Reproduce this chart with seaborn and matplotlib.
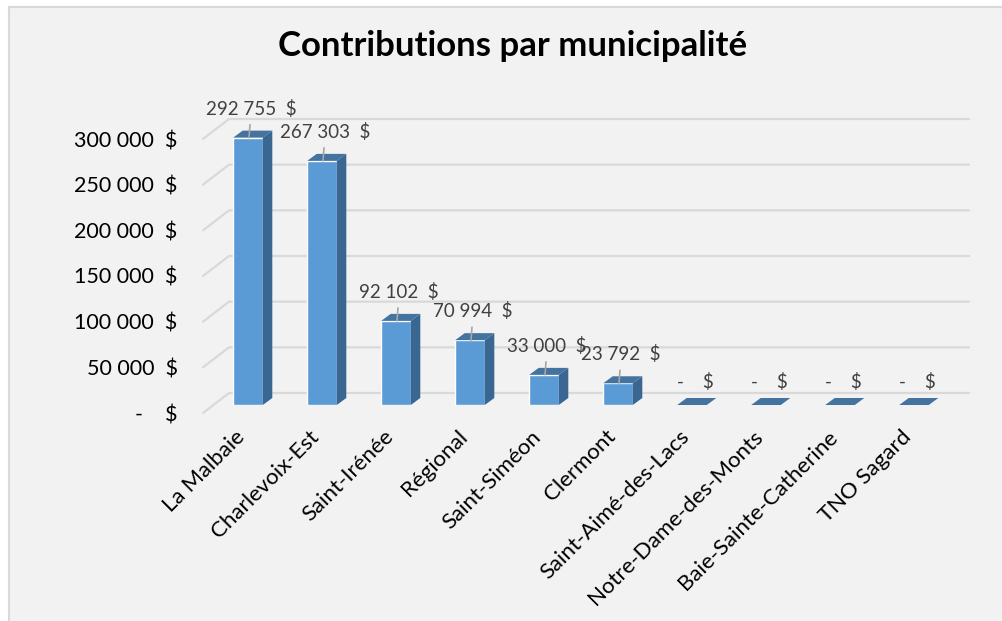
import numpy as np
import pandas as pd
import matplotlib
matplotlib.use("Agg")
import matplotlib.pyplot as plt
import seaborn as sns
from matplotlib.patches import Polygon, Rectangle
from matplotlib.transforms import ScaledTranslation

# ---- data ----
categories = ["La Malbaie", "Charlevoix-Est", "Saint-Irénée", "Régional", "Saint-Siméon",
              "Clermont", "Saint-Aimé-des-Lacs", "Notre-Dame-des-Monts",
              "Baie-Sainte-Catherine", "TNO Sagard"]
contributions = [292755, 267303, 92102, 70994, 33000, 23792, 0, 0, 0, 0]
y_ticks = [0, 50000, 100000, 150000, 200000, 250000, 300000]
title = "Contributions par municipalité"


def money(v):
    if v == 0:
        return "-    $"
    return f"{v:,}".replace(",", " ") + "  $"


sns.set_theme(style="white")
plt.rcParams["font.family"] = ["Lato", "DejaVu Sans"]

W, H = 1003, 621
fig = plt.figure(figsize=(W / 100, H / 100), dpi=100)
fig.patch.set_facecolor("white")
fig.patches.append(Rectangle((9 / W, -0.1), 1.2, 1.1 - 7 / H, transform=fig.transFigure,
                             facecolor="#F2F2F2", edgecolor="#D9D9D9", lw=1.5, zorder=-5))

ax = fig.add_axes([211 / W, (H - 405) / H, 740 / W, 274 / H])
ax.set_facecolor("none")
for s in ax.spines.values():
    s.set_visible(False)

df = pd.DataFrame({"Municipalité": categories, "Contribution": contributions})
sns.barplot(data=df, x="Municipalité", y="Contribution", color="#5B9BD5", width=0.4,
            saturation=1, ax=ax, zorder=3)
ax.set_xlim(-0.5, len(categories) - 0.5)
ax.set_ylim(0, 300000)
ax.set_xlabel("")
ax.set_ylabel("")


def shifted(x, y, dx, dy):
    p = ax.transData.transform((x, y))
    return ax.transData.inverted().transform(p + np.array([dx, dy]))


# back wall gridlines with side wall slant
for v in y_ticks:
    pts = np.array([shifted(-0.5, v, -8, -8), shifted(-0.5, v, 18, 12),
                    shifted(len(categories) - 0.5, v, 18, 12)])
    ax.plot(pts[:, 0], pts[:, 1], color="#D9D9D9", lw=1.6, zorder=1, clip_on=False)

# 3D faces
DX, DY = 9.5, 7
for p in list(ax.patches):
    x0, w, h = p.get_x(), p.get_width(), p.get_height()
    x1 = x0 + w
    if h > 0:
        side = [(x1, 0), (x1, h), tuple(shifted(x1, h, DX, DY)), tuple(shifted(x1, 0, DX, DY))]
        ax.add_patch(Polygon(side, closed=True, facecolor="#3A6792", edgecolor="none",
                             zorder=3, clip_on=False))
    top = [(x0, h), (x1, h), tuple(shifted(x1, h, DX, DY)), tuple(shifted(x0, h, DX, DY))]
    ax.add_patch(Polygon(top, closed=True, facecolor="#44739F", edgecolor="none",
                         zorder=3, clip_on=False))

# data labels with leader lines
for i, v in enumerate(contributions):
    off = 29 if v else 23
    ax.annotate(money(v), xy=(i, v), xytext=(3, off), textcoords="offset pixels",
                ha="center", va="center", fontsize=13.5, color="#404040", zorder=6,
                annotation_clip=False)
    if v:
        pts = np.array([shifted(i, v, 1, 0), shifted(i, v, 2, 13)])
        ax.plot(pts[:, 0], pts[:, 1], color="#A6A6A6", lw=1.2, zorder=5, clip_on=False)

# axes ticks
ax.set_yticks(y_ticks)
ax.set_yticklabels([money(v) for v in y_ticks], fontsize=15.5, color="black")
ax.tick_params(axis="y", length=0, pad=24)
for lab in ax.get_yticklabels():
    lab.set_transform(lab.get_transform() + ScaledTranslation(0, -8 / 100, fig.dpi_scale_trans))

ax.set_xticks(range(len(categories)))
ax.set_xticklabels(categories, rotation=45, ha="right", va="center",
                   rotation_mode="anchor", fontsize=16, color="black")
ax.tick_params(axis="x", length=0, pad=22)
for lab in ax.get_xticklabels():
    lab.set_transform(lab.get_transform() + ScaledTranslation(-6 / 100, 2 / 100, fig.dpi_scale_trans))

fig.text(513 / W, 1 - 46 / H, title, fontsize=25, fontweight="bold",
         ha="center", va="center", color="black")

fig.savefig("out.png", dpi=100, facecolor=fig.get_facecolor())
